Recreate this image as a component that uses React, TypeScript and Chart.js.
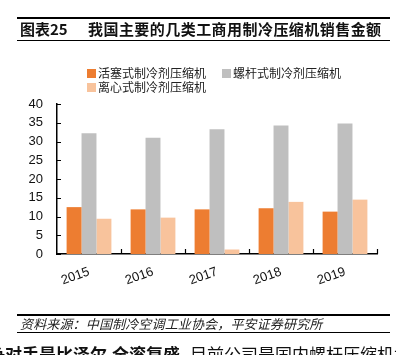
import React, { useEffect, useRef } from "react";
import { Chart, registerables } from "chart.js";

Chart.register(...registerables);

const years = ["2015", "2016", "2017", "2018", "2019"];
const pistonValues = [12.5, 11.9, 11.9, 12.2, 11.3];
const screwValues = [32.2, 31.0, 33.3, 34.3, 34.8];
const centrifugalValues = [9.4, 9.7, 1.2, 13.9, 14.5];
const seriesNames = ["活塞式制冷剂压缩机", "螺杆式制冷剂压缩机", "离心式制冷剂压缩机"];
const seriesColors = ["#ED7D31", "#BFBFBF", "#F8C39C"];
const yMin = 0;
const yMax = 40;
const yStep = 5;

const titleLabel = "图表25";
const titleText = "我国主要的几类工商用制冷压缩机销售金额";
const sourceText = "资料来源：中国制冷空调工业协会，平安证券研究所";
const bodyBoldA = "争对手是比泽尔";
const bodyBoldB = "全滚复盛";
const bodyNormal = "目前公司是国内螺杆压缩机龙头";

const numFont = "'Liberation Sans', Arial, sans-serif";
const cjkFont = "'Noto Sans CJK SC', 'Liberation Sans', sans-serif";

const innerTicks = {
  id: "innerTicks",
  afterDatasetsDraw(chart: any) {
    const { ctx, chartArea, scales } = chart;
    const x = scales.x;
    const y = scales.y;
    ctx.save();
    ctx.strokeStyle = "#000";
    ctx.lineWidth = 1.2;
    ctx.beginPath();
    y.ticks.forEach((_t: any, i: number) => {
      const py = Math.round(y.getPixelForTick(i)) + 0.5;
      ctx.moveTo(chartArea.left, py);
      ctx.lineTo(chartArea.left + 4, py);
    });
    const half = (x.getPixelForTick(1) - x.getPixelForTick(0)) / 2;
    for (let i = 0; i < x.ticks.length; i++) {
      const px = Math.round(x.getPixelForTick(i) + half) + 0.5;
      ctx.moveTo(px, chartArea.bottom);
      ctx.lineTo(px, chartArea.bottom - 5);
    }
    ctx.stroke();
    ctx.restore();
  },
};

export default function App() {
  const ref = useRef<HTMLCanvasElement | null>(null);

  useEffect(() => {
    if (!ref.current) return;
    const values = [pistonValues, screwValues, centrifugalValues];
    const chart = new Chart(ref.current, {
      type: "bar",
      data: {
        labels: years,
        datasets: values.map((v, i) => ({
          label: seriesNames[i],
          data: v,
          backgroundColor: seriesColors[i],
          borderWidth: 0,
          categoryPercentage: 0.7,
          barPercentage: 1.0,
        })),
      },
      options: {
        animation: false,
        responsive: false,
        maintainAspectRatio: false,
        layout: { padding: { left: 0, top: 104, right: 19, bottom: 0 } },
        plugins: {
          legend: { display: false },
          tooltip: { enabled: false },
          title: { display: false },
        },
        scales: {
          x: {
            grid: { display: false, drawTicks: false },
            border: { display: true, color: "#000", width: 1.5 },
            ticks: {
              font: { family: numFont, size: 13 },
              color: "#111",
              minRotation: 20,
              maxRotation: 20,
              padding: 10,
            },
            afterFit: (s: any) => {
              s.height = 101;
            },
          },
          y: {
            min: yMin,
            max: yMax,
            grid: { display: false, drawTicks: false },
            border: { display: true, color: "#000", width: 1.5 },
            ticks: {
              stepSize: yStep,
              font: { family: numFont, size: 13 },
              color: "#111",
              padding: 14,
            },
            afterFit: (s: any) => {
              s.width = 57;
            },
          },
        },
      },
      plugins: [innerTicks],
    });
    return () => chart.destroy();
  }, []);

  const line = (top: number) => (
    <div
      style={{
        position: "absolute",
        left: 17,
        width: 373,
        top,
        height: 1.5,
        background: "#000",
      }}
    />
  );

  const legendItem = (i: number, left: number, top: number) => (
    <div
      style={{
        position: "absolute",
        left,
        top,
        display: "flex",
        alignItems: "center",
        fontFamily: cjkFont,
        fontSize: 12,
        color: "#222",
        whiteSpace: "nowrap",
        lineHeight: "14px",
      }}
    >
      <span
        style={{
          display: "inline-block",
          width: 9,
          height: 9,
          background: seriesColors[i],
          marginRight: 2,
        }}
      />
      <span>{seriesNames[i]}</span>
    </div>
  );

  const squeezed = (w: number) => ({
    display: "inline-block",
    width: w,
    overflow: "hidden",
    verticalAlign: "top",
  });

  return (
    <div
      style={{
        position: "fixed",
        left: 0,
        top: 0,
        width: 396,
        height: 355,
        background: "#fff",
        overflow: "hidden",
      }}
    >
      <canvas
        ref={ref}
        width={396}
        height={355}
        style={{ position: "absolute", left: 0, top: 0, width: 396, height: 355 }}
      />
      {line(17)}
      {line(39.5)}
      <div
        style={{
          position: "absolute",
          left: 20,
          top: 19,
          fontFamily: cjkFont,
          fontWeight: "bold",
          fontSize: 15,
          lineHeight: "20px",
          color: "#111",
          whiteSpace: "nowrap",
        }}
      >
        {titleLabel}
      </div>
      <div
        style={{
          position: "absolute",
          left: 88,
          top: 19,
          fontFamily: cjkFont,
          fontWeight: "bold",
          fontSize: 15,
          letterSpacing: 0.45,
          lineHeight: "20px",
          color: "#111",
          whiteSpace: "nowrap",
        }}
      >
        {titleText}
      </div>
      {legendItem(0, 87, 66)}
      {legendItem(1, 222, 66)}
      {legendItem(2, 87, 80)}
      {line(314)}
      {line(331.5)}
      <div
        style={{
          position: "absolute",
          left: 20,
          top: 315,
          fontFamily: cjkFont,
          fontStyle: "italic",
          fontSize: 13,
          letterSpacing: 0.15,
          lineHeight: "17px",
          color: "#222",
          whiteSpace: "nowrap",
        }}
      >
        {sourceText}
      </div>
      <div
        style={{
          position: "absolute",
          left: -12,
          top: 342,
          fontFamily: cjkFont,
          fontSize: 17,
          lineHeight: "24px",
          height: 24,
          color: "#111",
          whiteSpace: "nowrap",
        }}
      >
        <b>{bodyBoldA}</b>
        <b style={squeezed(5)}>、</b>
        <b>{bodyBoldB}</b>
        <span style={squeezed(10)}>，</span>
        <span>{bodyNormal}</span>
      </div>
    </div>
  );
}
